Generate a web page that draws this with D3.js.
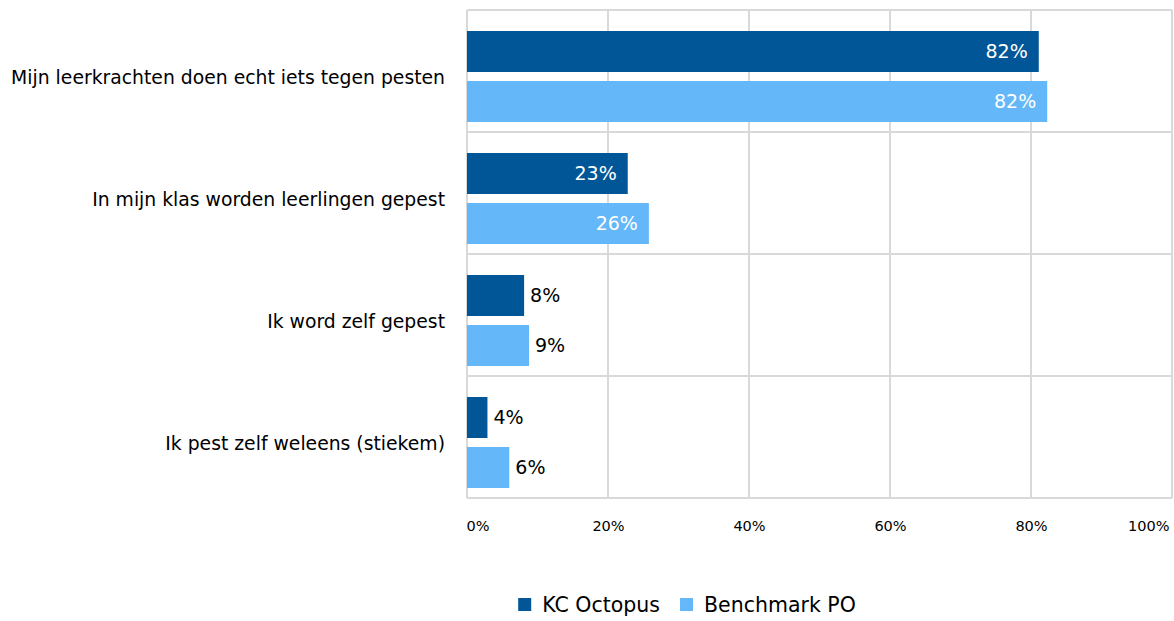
<!DOCTYPE html>
<html>
<head>
<meta charset="utf-8">
<script src="https://cdn.jsdelivr.net/npm/d3@7"></script>
<style>
  body { margin: 0; background: #fff; }
  text { font-family: "DejaVu Sans", Verdana, sans-serif; }
</style>
</head>
<body>
<script>
// data
const categories = [
    "Mijn leerkrachten doen echt iets tegen pesten",
    "In mijn klas worden leerlingen gepest",
    "Ik word zelf gepest",
    "Ik pest zelf weleens (stiekem)"
];
const seriesNames = ["KC Octopus", "Benchmark PO"];
const octopusValues = [81.1, 22.8, 8.1, 2.9];
const benchmarkValues = [82.3, 25.8, 8.8, 6.0];
const octopusLabels = ["82%", "23%", "8%", "4%"];
const benchmarkLabels = ["82%", "26%", "9%", "6%"];
const xTicks = [0, 20, 40, 60, 80, 100];

const width = 1174;
const height = 621;
const leftMargin = 467;
const topMargin = 10;
const plotW = 705;
const plotH = 488;
const colors = ["#005697", "#64b7f9"];

const svg = d3.select("body")
    .append("svg")
    .attr("width", width)
    .attr("height", height);

const x = d3.scaleLinear().domain([0, 100]).range([leftMargin, leftMargin + plotW]);
const y = d3.scaleBand().domain(categories).range([topMargin, topMargin + plotH]);

// ---------- grid ----------
const grid = svg.append("g").attr("class", "grid");
grid.selectAll("line.v")
    .data(xTicks)
    .enter()
    .append("line")
    .attr("x1", d => x(d)).attr("x2", d => x(d))
    .attr("y1", topMargin).attr("y2", topMargin + plotH)
    .attr("stroke", "#d9d9d9")
    .attr("stroke-width", 2);
grid.selectAll("line.h")
    .data(categories.concat([null]))
    .enter()
    .append("line")
    .attr("x1", leftMargin).attr("x2", leftMargin + plotW)
    .attr("y1", d => d === null ? topMargin + plotH : y(d))
    .attr("y2", d => d === null ? topMargin + plotH : y(d))
    .attr("stroke", "#d9d9d9")
    .attr("stroke-width", 2);

// ---------- x axis labels ----------
const xAxis = svg.append("g")
    .attr("transform", "translate(0," + (topMargin + plotH + 20) + ")")
    .call(d3.axisBottom(x).tickValues(xTicks).tickFormat(d => d + "%").tickSize(0));
xAxis.select(".domain").remove();
xAxis.selectAll("text")
    .style("font-family", "DejaVu Sans, sans-serif")
    .style("font-size", "14.5px")
    .attr("fill", "#000")
    .attr("text-anchor", (d, i) => i === 0 ? "start" : (i === xTicks.length - 1 ? "end" : "middle"))
    .attr("dx", (d, i) => i === 0 ? -1 : (i === xTicks.length - 1 ? -3 : 0));

// ---------- bars ----------
const barH = 41;
const offsets = [21, 71];
const series = [
    { name: seriesNames[0], values: octopusValues, labels: octopusLabels },
    { name: seriesNames[1], values: benchmarkValues, labels: benchmarkLabels }
];

series.forEach(function (s, si) {
    const rows = categories.map((c, i) => ({ cat: c, v: s.values[i], label: s.labels[i] }));
    const g = svg.append("g").attr("class", "series-" + si);
    g.selectAll("rect")
        .data(rows)
        .enter()
        .append("rect")
        .attr("x", x(0))
        .attr("y", d => y(d.cat) + offsets[si])
        .attr("width", d => x(d.v) - x(0))
        .attr("height", barH)
        .attr("fill", colors[si]);
    g.selectAll("text")
        .data(rows)
        .enter()
        .append("text")
        .attr("x", d => d.v > 15 ? x(d.v) - 11 : x(d.v) + 6)
        .attr("y", d => y(d.cat) + offsets[si] + barH / 2)
        .attr("dy", "0.36em")
        .attr("text-anchor", d => d.v > 15 ? "end" : "start")
        .attr("fill", d => d.v > 15 ? "#fff" : "#000")
        .style("font-size", "19px")
        .text(d => d.label);
});

// ---------- category labels ----------
svg.append("g")
    .selectAll("text")
    .data(categories)
    .enter()
    .append("text")
    .attr("x", 445)
    .attr("y", d => y(d) + y.bandwidth() / 2 + 6)
    .attr("dy", "0.36em")
    .attr("text-anchor", "end")
    .attr("fill", "#000")
    .style("font-size", "18.8px")
    .text(d => d);

// ---------- legend ----------
const legend = svg.append("g").attr("class", "legend");
let lx = 0;
series.forEach(function (s, si) {
    const item = legend.append("g").attr("transform", "translate(" + lx + ",0)");
    item.append("rect")
        .attr("x", 0).attr("y", -7)
        .attr("width", 13).attr("height", 13)
        .attr("fill", colors[si]);
    const t = item.append("text")
        .attr("x", 24)
        .attr("y", 0)
        .attr("dy", "0.36em")
        .attr("fill", "#000")
        .style("font-size", "20.5px")
        .text(s.name);
    lx += 24 + t.node().getComputedTextLength() + 20;
});
const legendW = lx - 20;
legend.attr("transform", "translate(" + (687 - legendW / 2) + ",605)");
</script>
</body>
</html>
